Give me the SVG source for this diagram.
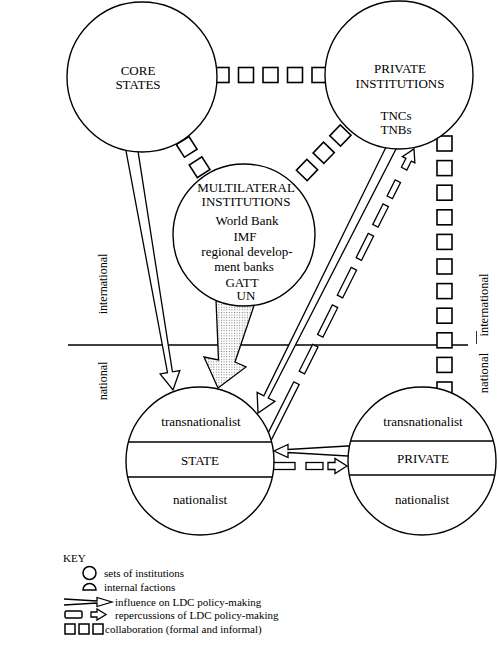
<svg xmlns="http://www.w3.org/2000/svg" width="498" height="662" viewBox="0 0 498 662">
<style>
.node{fill:#fff;stroke:#000;stroke-width:1.4}
.conn{fill:#fff;stroke:#000;stroke-width:1.3;stroke-linejoin:miter}
.sq{fill:#fff;stroke:#000;stroke-width:1.6}
.band{stroke:#000;stroke-width:1.4}
text{font-family:"Liberation Serif","DejaVu Serif",serif;fill:#000}
.t{font-size:13px;text-anchor:middle}
.k{font-size:11px}
.v{text-anchor:middle}
</style>
<defs>
<pattern id="dots" width="2.6" height="2.6" patternUnits="userSpaceOnUse">
<rect width="2.6" height="2.6" fill="#fff"/>
<rect width="1" height="1" fill="#777"/>
</pattern>
<rect id="sq" class="sq" x="-7.5" y="-7.5" width="15" height="15"/>
<rect id="ksq" x="0" y="0" width="10" height="10" fill="none" stroke="#000" stroke-width="1.5"/>
</defs>

<g id="level-divider">
<line x1="68" y1="345" x2="468" y2="345" stroke="#000" stroke-width="1.3"/>
<line x1="476.5" y1="331" x2="476.5" y2="344" stroke="#000" stroke-width="0.8"/>
<text class="v" font-size="12" transform="translate(107,284) rotate(-90)">international</text>
<text class="v" font-size="12" transform="translate(107,381) rotate(-90)">national</text>
<text class="v" font-size="12.5" transform="translate(488,305) rotate(-90)">international</text>
<text class="v" font-size="12.5" transform="translate(488,373) rotate(-90)">national</text>
</g>

<g id="connectors">
<g id="collab-core-private">
<use href="#sq" x="221.5" y="75"/>
<use href="#sq" x="246" y="75"/>
<use href="#sq" x="270.5" y="75"/>
<use href="#sq" x="295" y="75"/>
<use href="#sq" x="319.5" y="75"/>
</g>
<g id="collab-core-multilateral">
<use href="#sq" transform="translate(186.7,146.9) rotate(57.4)"/>
<use href="#sq" transform="translate(199.6,167.2) rotate(57.4)"/>
</g>
<g id="collab-multilateral-private">
<use href="#sq" transform="translate(307,170) rotate(-45.9)"/>
<use href="#sq" transform="translate(323.7,152.8) rotate(-45.9)"/>
<use href="#sq" transform="translate(340.4,135.5) rotate(-45.9)"/>
</g>
<g id="collab-privateinst-private">
<use href="#sq" x="444.5" y="143.5"/>
<use href="#sq" x="444.5" y="168.1"/>
<use href="#sq" x="444.5" y="192.7"/>
<use href="#sq" x="444.5" y="217.3"/>
<use href="#sq" x="444.5" y="241.9"/>
<use href="#sq" x="444.5" y="266.5"/>
<use href="#sq" x="444.5" y="291.1"/>
<use href="#sq" x="444.5" y="315.7"/>
<use href="#sq" x="444.5" y="340.3"/>
<use href="#sq" x="444.5" y="364.9"/>
<use href="#sq" x="444.5" y="389.5"/>
</g>
<path id="core-to-state" class="conn" transform="translate(173,390) rotate(-99.73)" d="M250,-6 L18,-2.5 L18,-10 L0,0 L18,10 L18,2.5 L250,6 Z"/>
<path id="privinst-to-state" class="conn" transform="translate(258,413) rotate(-63.35)" d="M310,-5 L18,-2.5 L18,-10 L0,0 L18,10 L18,2.5 L310,5 Z"/>
<g id="state-to-privinst" class="conn" transform="translate(414,149) rotate(116.65)">
<path d="M0,0 L12,-7 L12,-3 L22,-3 L22,3 L12,3 L12,7 Z"/>
<rect x="36" y="-3" width="18" height="6"/>
<rect x="63" y="-3" width="23" height="6"/>
<rect x="96" y="-3" width="27" height="6"/>
<rect x="134" y="-3" width="31" height="6"/>
<rect x="176" y="-3" width="33" height="6"/>
<rect x="220" y="-3" width="30" height="6"/>
<rect x="262" y="-3" width="78" height="6"/>
</g>
<path id="multilateral-to-state" d="M215.5,288 L218.5,360 L204,357 L218,388 L246,367 L235,362 L260,288 Z" fill="url(#dots)" stroke="#000" stroke-width="1.3"/>
<path id="private-to-state" class="conn" transform="translate(274,451)" d="M82,-5.5 L14,-1.5 L14,-6.5 L0,0 L14,6.5 L14,1.5 L82,5.5 Z"/>
<g id="state-to-private" class="conn" transform="translate(347,466) rotate(180)">
<path d="M0,0 L12,-7.5 L12,-3.5 L19,-3.5 L19,3.5 L12,3.5 L12,7.5 Z"/>
<rect x="24" y="-3.5" width="17" height="7"/>
<rect x="52" y="-3.5" width="32" height="7"/>
</g>
</g>

<g id="core-states">
<circle class="node" cx="142" cy="77" r="75"/>
<text class="t" x="138" y="74.5">CORE</text>
<text class="t" x="138" y="88.5">STATES</text>
</g>

<g id="private-institutions">
<circle class="node" cx="399" cy="75" r="74"/>
<text class="t" x="400" y="72.5">PRIVATE</text>
<text class="t" x="400" y="87.5">INSTITUTIONS</text>
<text class="t" x="396" y="119.5">TNCs</text>
<text class="t" x="396" y="133.5">TNBs</text>
</g>

<g id="multilateral-institutions">
<circle class="node" cx="244" cy="235" r="71"/>
<text class="t" x="246" y="191.5">MULTILATERAL</text>
<text class="t" x="246" y="206">INSTITUTIONS</text>
<text class="t" x="247" y="224.5">World Bank</text>
<text class="t" x="245" y="240.5">IMF</text>
<text class="t" x="247" y="256">regional develop-</text>
<text class="t" x="244" y="271">ment banks</text>
<text class="t" x="242" y="286.5">GATT</text>
<text class="t" x="246" y="300">UN</text>
</g>

<g id="state">
<circle class="node" cx="200" cy="461" r="74"/>
<line class="band" x1="128.5" y1="442" x2="271.5" y2="442"/>
<line class="band" x1="127.8" y1="477" x2="272.2" y2="477"/>
<text class="t" x="201" y="426">transnationalist</text>
<text class="t" x="200" y="464.5">STATE</text>
<text class="t" x="200" y="504">nationalist</text>
</g>

<g id="private">
<circle class="node" cx="422" cy="461" r="74"/>
<line class="band" x1="350.8" y1="441" x2="493.2" y2="441"/>
<line class="band" x1="349.3" y1="475" x2="494.7" y2="475"/>
<text class="t" x="423" y="426">transnationalist</text>
<text class="t" x="423" y="462.5">PRIVATE</text>
<text class="t" x="422" y="504">nationalist</text>
</g>

<g id="key">
<text class="k" x="63" y="562">KEY</text>
<circle cx="89.5" cy="573" r="6.5" fill="none" stroke="#000" stroke-width="1.5"/>
<text class="k" x="104" y="576.5">sets of institutions</text>
<path d="M83,590 A6.5,6.5 0 0 1 96,590 Z" fill="none" stroke="#000" stroke-width="1.5"/>
<text class="k" x="104" y="590.5">internal factions</text>
<path transform="translate(112,602)" d="M-48,-3 L-15,-1 L-15,-4.5 L0,0 L-15,4.5 L-15,1 L-48,3" fill="none" stroke="#000" stroke-width="1.3"/>
<text class="k" x="115" y="605.5">influence on LDC policy-making</text>
<rect x="65" y="611" width="17" height="7" rx="1.5" fill="none" stroke="#000" stroke-width="1.5"/>
<path transform="translate(106,614.5)" d="M0,0 L-9,-5.5 L-9,-2.5 L-15,-2.5 L-15,2.5 L-9,2.5 L-9,5.5 Z" fill="none" stroke="#000" stroke-width="1.3"/>
<text class="k" x="115" y="618.5">repercussions of LDC policy-making</text>
<use href="#ksq" x="65" y="624"/>
<use href="#ksq" x="79" y="624"/>
<use href="#ksq" x="93" y="624"/>
<text class="k" x="105" y="632.5">collaboration (formal and informal)</text>
</g>
</svg>
